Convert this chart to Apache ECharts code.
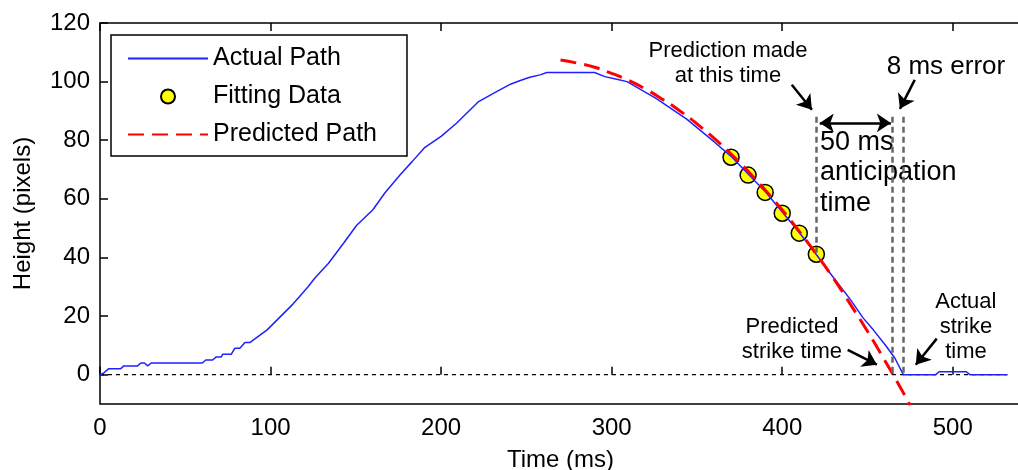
<!DOCTYPE html>
<html>
<head>
<meta charset="utf-8">
<script src="https://cdn.jsdelivr.net/npm/echarts@6/dist/echarts.min.js"></script>
<style>
  html, body { margin: 0; padding: 0; background: #fff; }
  #main { width: 1018px; height: 470px; }
</style>
</head>
<body>
<div id="main"></div>
<script>
// measured path (ms, pixels)
const TIME_ACTUAL = [0, 2, 5, 12, 14, 22, 24, 26, 28, 30, 60, 62, 66, 68, 71, 72, 77, 79, 82, 85, 88,
  98, 113, 116, 122, 126, 134, 143, 150.5, 160, 167, 176, 183, 190.5, 200, 209, 222, 232.5, 241, 246,
  252, 258, 262, 290, 296, 303, 309, 326, 344, 360, 370, 380, 390, 400, 410, 420, 428, 440, 447.5, 453.4,
  461, 466, 471, 490, 492, 508, 510, 532];
const HEIGHT_ACTUAL = [0, 0.5, 2, 2, 3, 3, 4, 4, 3, 4, 4, 5, 5, 6, 6, 7, 7, 9, 9, 11, 11,
  15.3, 24, 26, 30, 33, 38, 45, 51, 56.3, 62, 68.2, 72.7, 77.6, 81.3, 85.8, 93.2, 96.6, 99.2, 100.3,
  101.5, 102.3, 103.1, 103.1, 101.7, 100.8, 100, 94.3, 87.2, 79.5, 74.5, 68.5, 62.5, 55.5, 48.5, 41, 34.7, 25.6, 19.3, 15.3,
  9.7, 5.7, 0, 0, 1, 1, 0, 0];

const TIME_FIT = [370, 380, 390, 400, 410, 420];
const HEIGHT_FIT = [74.2, 68.1, 62.2, 55.1, 48.3, 41.1];

const TIME_PRED = [270, 280, 290, 300, 310, 320, 330, 340, 350, 360, 370, 380, 390, 400, 410, 420,
  430, 440, 450, 460, 470, 475];
const HEIGHT_PRED = [107.4, 106.3, 104.9, 102.8, 100.4, 97.4, 93.9, 90.0, 85.6, 80.7, 75.3, 69.4,
  63.0, 56.2, 48.9, 41.1, 32.9, 24.0, 14.8, 5.0, -5.1, -10.5];

const Y_TICKS = [0, 20, 40, 60, 80, 100, 120];
const ZERO_END = 532;

// annotation geometry in data units
const GUIDES = [[420, 88, 41.1], [464.6, 88, 0], [471, 88, 0]];
const ARROWS = [
  [[405.6, 98.9], [417.4, 90.4]],
  [[477.7, 100.6], [469, 90.7]],
  [[438.4, 8.5], [455.5, 3.4]],
  [[490.6, 12.3], [478.3, 3.4]]
];
const SPAN_ARROW = [[422, 85.9], [463.7, 85.9]];
const NOTES = [
  { text: 'Prediction made\nat this time', at: [368.2, 106.3], size: 22, lh: 25, align: 'center' },
  { text: '8 ms error', at: [496, 105.1], size: 26, lh: 30, align: 'center' },
  { text: '50 ms\nanticipation\ntime', at: [422.1, 68.9], size: 27, lh: 30.5, align: 'left' },
  { text: 'Predicted\nstrike time', at: [405.7, 12.1], size: 22, lh: 25, align: 'center' },
  { text: 'Actual\nstrike\ntime', at: [507.7, 16.4], size: 22, lh: 25, align: 'center' }
];

const FONT = '"Liberation Sans", Arial, Helvetica, sans-serif';
const zip = (xs, ys) => xs.map((x, i) => [x, ys[i]]);

const chart = echarts.init(document.getElementById('main'));

const tickStyle = { inside: true, length: 8, lineStyle: { color: '#000', width: 1.5 } };
const noSymbol = { opacity: 0 };

const option = {
  animation: false,
  textStyle: { fontFamily: FONT },
  grid: {
    left: 100, top: 23, right: -3, bottom: 66,
    outerBoundsMode: 'none',
    show: true, borderColor: '#000', borderWidth: 1.5
  },
  legend: {
    data: [
      { name: 'Actual Path', itemStyle: noSymbol },
      { name: 'Fitting Data' },
      { name: 'Predicted Path', itemStyle: noSymbol }
    ],
    orient: 'vertical',
    left: 111, top: 35,
    itemWidth: 80, itemHeight: 14, itemGap: 13,
    padding: [11, 30, 9, 16],
    borderColor: '#000', borderWidth: 1.5, backgroundColor: '#fff',
    textStyle: { fontSize: 25, color: '#000', fontFamily: FONT }
  },
  xAxis: [{
    type: 'value', min: 0, max: 540, interval: 100, position: 'bottom',
    axisLine: { show: false },
    axisTick: tickStyle,
    axisLabel: { fontSize: 24, color: '#000', margin: 12, showMaxLabel: false, fontFamily: FONT },
    splitLine: { show: false },
    name: 'Time (ms)', nameLocation: 'middle', nameGap: 44,
    nameTextStyle: { fontSize: 24, color: '#000', fontFamily: FONT }
  }, {
    type: 'value', min: 0, max: 540, interval: 100, position: 'top',
    axisLine: { show: false },
    axisTick: tickStyle,
    axisLabel: { show: false },
    splitLine: { show: false }
  }],
  yAxis: {
    type: 'value', min: -10, max: 120,
    axisLine: { show: false },
    axisTick: Object.assign({ customValues: Y_TICKS }, tickStyle),
    axisLabel: { customValues: Y_TICKS, fontSize: 24, color: '#000', margin: 10, fontFamily: FONT },
    splitLine: { show: false },
    name: 'Height (pixels)', nameLocation: 'middle', nameGap: 65, nameRotate: 90,
    nameTextStyle: { fontSize: 24, color: '#000', fontFamily: FONT }
  },
  series: [
    {
      name: 'zero', type: 'line', data: [[0, 0], [ZERO_END, 0]],
      symbol: 'none', silent: true,
      lineStyle: { color: '#000', width: 1.2, type: [4, 4] },
      markLine: {
        silent: true, symbol: 'none', label: { show: false },
        lineStyle: { color: '#666', width: 2.5, type: [6, 4] },
        data: GUIDES.map(g => [{ coord: [g[0], g[1]] }, { coord: [g[0], g[2]] }])
      }
    },
    {
      name: 'Actual Path', type: 'line', data: zip(TIME_ACTUAL, HEIGHT_ACTUAL),
      symbol: 'none', showSymbol: false,
      lineStyle: { color: '#2020ff', width: 1.5 },
      itemStyle: { color: '#2020ff' }
    },
    {
      name: 'Fitting Data', type: 'scatter', data: zip(TIME_FIT, HEIGHT_FIT),
      symbol: 'circle', symbolSize: 16,
      itemStyle: { color: '#ffff00', borderColor: '#000', borderWidth: 1.5, opacity: 1 }
    },
    {
      name: 'Predicted Path', type: 'line', data: zip(TIME_PRED, HEIGHT_PRED),
      symbol: 'none', showSymbol: false, smooth: true,
      lineStyle: { color: '#ff0000', width: 3, type: [16, 8] },
      itemStyle: { color: '#ff0000' }
    },
    {
      name: 'arrows', type: 'line', data: [],
      markLine: {
        silent: true, label: { show: false },
        symbol: ['none', 'arrow'], symbolSize: 14,
        lineStyle: { color: '#000', width: 2.5, type: 'solid' },
        data: ARROWS.map(a => [{ coord: a[0] }, { coord: a[1] }]).concat([
          [{ coord: SPAN_ARROW[0], symbol: 'arrow' }, { coord: SPAN_ARROW[1], symbol: 'arrow' }]
        ])
      }
    }
  ]
};

chart.setOption(option);

// text notes placed from data coordinates
chart.setOption({
  graphic: NOTES.map(n => {
    const p = chart.convertToPixel({ xAxisIndex: 0, yAxisIndex: 0 }, n.at);
    return {
      type: 'text', x: p[0], y: p[1], silent: true,
      style: {
        text: n.text, fill: '#000', fontSize: n.size, fontFamily: FONT,
        lineHeight: n.lh, align: n.align, verticalAlign: 'middle'
      }
    };
  })
});
</script>
</body>
</html>
